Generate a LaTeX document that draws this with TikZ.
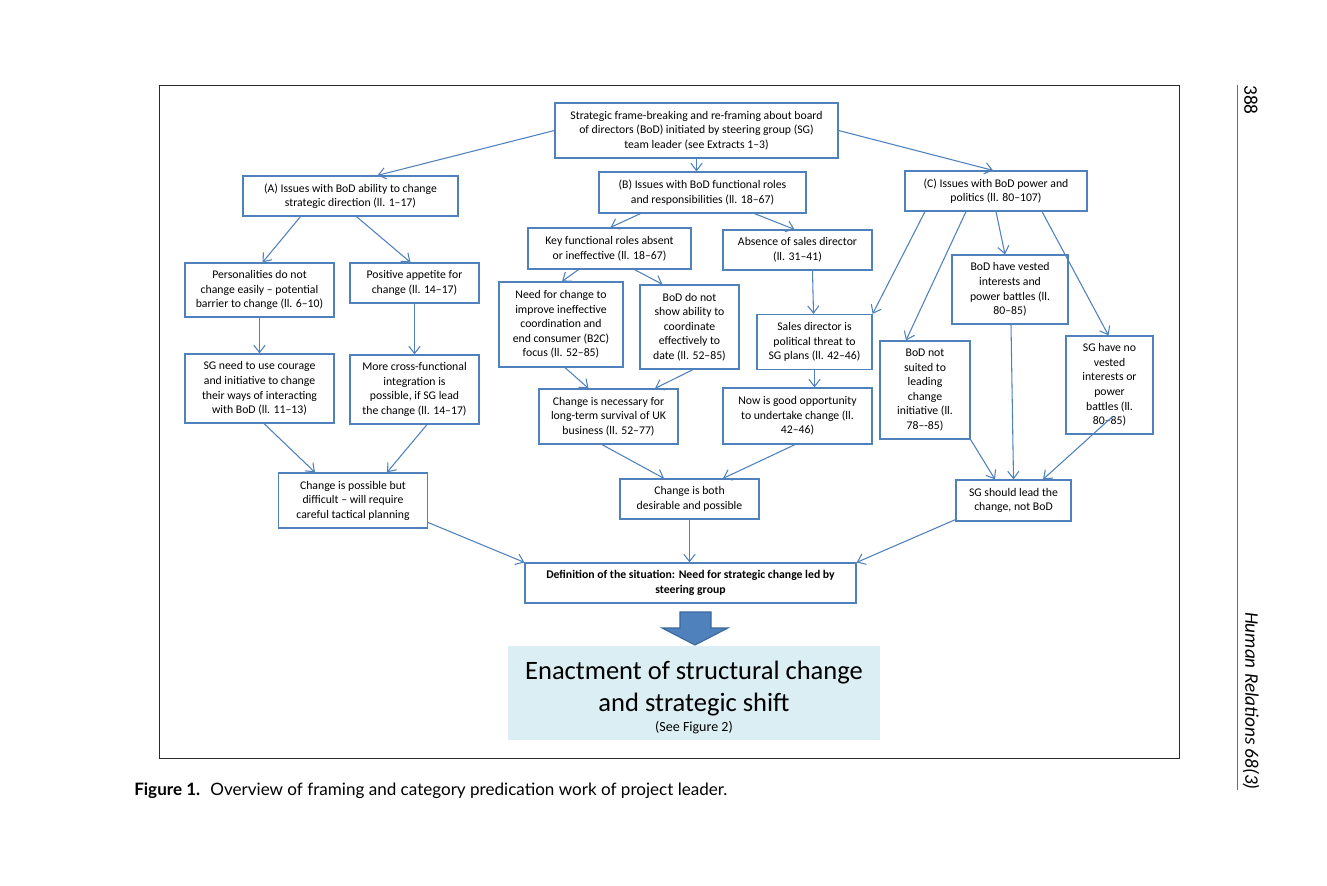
\documentclass[tikz,border=0pt]{standalone}
\usepackage{fontspec}
\setmainfont{Carlito}
\newfontfamily\capfont{Lato}
\usetikzlibrary{arrows.meta,calc}

\definecolor{boxblue}{HTML}{4F81BD}
\definecolor{arrowedge}{HTML}{3A679C}
\definecolor{enactblue}{HTML}{DAEEF3}
\definecolor{framegray}{HTML}{2B2B2B}
\definecolor{sidegray}{HTML}{6E6E6E}

\begin{document}
\begin{tikzpicture}[
  x=0.75pt,y=-0.75pt,
  box/.style 2 args={draw=boxblue,line width=0.9pt,fill=white,align=center,inner sep=1pt,
    minimum width=#1*0.75pt,minimum height=#2*0.75pt,font=\fontsize{8.8}{10.9}\selectfont},
  link/.style={draw=boxblue,line width=0.8pt,-{Straight Barb[length=5.5pt,width=8.5pt]}}
]
  \useasboundingbox (0,0) rectangle (1327,885);
  \draw[framegray,line width=0.7pt] (159,85) rectangle (1179,758);

  % frame-breaking and the three issue groups
  \node[box={283}{55}] (frame) at (696.5,130.5) {Strategic frame-breaking and re-framing about board\\ of directors (BoD) initiated by steering group (SG)\\ team leader (see Extracts 1--3)};
  \node[box={215}{40}] (issueA) at (350.5,196) {(A) Issues with BoD ability to change\\ strategic direction (ll. 1--17)};
  \node[box={207}{41}] (issueB) at (702.5,192.5) {(B) Issues with BoD functional roles\\ and responsibilities (ll. 18--67)};
  \node[box={182}{40}] (issueC) at (996,191) {(C) Issues with BoD power and\\ politics (ll. 80--107)};

  % column A
  \node[box={149}{54}] (personal) at (259.5,290) {Personalities do not\\ change easily -- potential\\ barrier to change (ll. 6--10)};
  \node[box={129}{40}] (appetite) at (414.5,283) {Positive appetite for\\ change (ll. 14--17)};
  \node[box={149}{69}] (courage) at (259.5,388.5) {SG need to use courage\\ and initiative to change\\ their ways of interacting\\ with BoD (ll. 11--13)};
  \node[box={129}{69}] (crossfunc) at (414.5,389.5) {More cross-functional\\ integration is\\ possible, if SG lead\\ the change (ll. 14--17)};
  \node[box={149}{55}] (difficult) at (353,500.5) {Change is possible but\\ difficult -- will require\\ careful tactical planning};

  % column B
  \node[box={163}{41}] (keyroles) at (609.5,248.5) {Key functional roles absent\\ or ineffective (ll. 18--67)};
  \node[box={149}{40}] (nosales) at (797.5,250) {Absence of sales director\\ (ll. 31--41)};
  \node[box={124}{85}] (needchange) at (561,324.5) {Need for change to\\ improve ineffective\\ coordination and\\ end consumer (B2C)\\ focus (ll. 52--85)};
  \node[box={99}{84}] (notshow) at (689.5,327) {BoD do not\\ show ability to\\ coordinate\\ effectively to\\ date (ll. 52--85)};
  \node[box={115}{55}] (salesthreat) at (814.5,342) {Sales director is\\ political threat to\\ SG plans (ll. 42--46)};
  \node[box={139}{55}] (necessary) at (608.5,416.5) {Change is necessary for\\ long-term survival of UK\\ business (ll. 52--77)};
  \node[box={149}{56}] (goodtime) at (797.5,416) {Now is good opportunity\\ to undertake change (ll.\\ 42--46)};
  \node[box={139}{40}] (desirable) at (689.5,499) {Change is both\\ desirable and possible};

  % column C
  \node[box={116}{69}] (vested) at (1010,289.5) {BoD have vested\\ interests and\\ power battles (ll.\\ 80--85)};
  \node[box={90}{98}] (notsuited) at (925,390) {BoD not\\ suited to\\ leading\\ change\\ initiative (ll.\\ 78--{}-85)};
  \node[box={87}{98}] (novested) at (1109.5,385) {SG have no\\ vested\\ interests or\\ power\\ battles (ll.\\ 80--85)};
  \node[box={115}{41}] (sglead) at (1013.5,500.5) {SG should lead the\\ change, not BoD};

  % outcome
  \node[box={331}{40},font=\fontsize{8.8}{10.9}\selectfont\bfseries] (definition) at (690.5,583) {Definition of the situation: Need for strategic change led by\\ steering group};
  \node[fill=enactblue,minimum width=372*0.75pt,minimum height=94*0.75pt,align=center,inner sep=0pt,
    font=\fontsize{19.9}{23.5}\selectfont] (enact) at (694,693)
    {\rule{0pt}{21pt}Enactment of structural change\\ and strategic shift\\[-8pt] \fontsize{10.5}{12}\selectfont (See Figure 2)};
  \filldraw[fill=boxblue,draw=arrowedge,line width=0.8pt] (680,612) -- (711,612) -- (711,628) -- (728,628)
    -- (695,645) -- (662,628) -- (680,628) -- cycle;

  \draw[link] (frame.west) -- ($(issueA.north)+(27,0)$);
  \draw[link] (frame.south) -- (frame.south |- issueB.north);
  \draw[link] (frame.east) -- ($(issueC.north)+(-3,0)$);

  \draw[link] ($(issueA.south)+(-50,0)$) -- ($(personal.north)+(3,0)$);
  \draw[link] ($(issueA.south)+(6,0)$) -- ($(appetite.north)+(-4,0)$);
  \draw[link] (personal) -- (courage);
  \draw[link] (appetite) -- (crossfunc);
  \draw[link] ($(courage.south)+(4.5,0)$) -- ($(difficult.north)+(-38,0)$);
  \draw[link] ($(crossfunc.south)+(12.5,0)$) -- ($(difficult.north)+(34,0)$);

  \draw[link] ($(issueB.south)+(-62,0)$) -- ($(keyroles.north)+(1,0)$);
  \draw[link] ($(issueB.south)+(52,0)$) -- ($(nosales.north)+(-3,0)$);
  \draw[link] ($(keyroles.south)+(-31,0)$) -- ($(needchange.north)+(1,0)$);
  \draw[link] ($(keyroles.south)+(25,0)$) -- ($(notshow.north)+(-27,0)$);
  \draw[link] ($(nosales.south)+(15,0)$) -- ($(salesthreat.north)+(-1,0)$);
  \draw[link] ($(needchange.south)+(4,0)$) -- ($(necessary.north)+(-20,0)$);
  \draw[link] ($(notshow.south)+(3.5,0)$) -- ($(necessary.north)+(46.5,0)$);
  \draw[link] (salesthreat.south) -- (salesthreat.south |- goodtime.north);
  \draw[link] ($(necessary.south)+(-6.5,0)$) -- ($(desirable.north)+(-25.5,0)$);
  \draw[link] ($(goodtime.south)+(-2.5,0)$) -- ($(desirable.north)+(33.5,0)$);

  \draw[link] ($(issueC.south)+(-71,0)$) -- (salesthreat.north east);
  \draw[link] ($(issueC.south)+(-30,0)$) -- ($(notsuited.north)+(-19,0)$);
  \draw[link] (issueC.south) -- ($(vested.north)+(-5,0)$);
  \draw[link] ($(issueC.south)+(46,0)$) -- ($(novested.north)+(-1,0)$);
  \draw[link] (notsuited.south east) -- ($(sglead.north)+(-18.5,0)$);
  \draw[link] ($(vested.south)+(1,0)$) -- (sglead.north);
  \draw[link] ($(novested.south)+(3,-18)$) -- ($(sglead.north)+(29.5,0)$);

  \draw[link] ($(difficult.east)+(0,22)$) -- (definition.north west);
  \draw[link] (desirable.south) -- (desirable.south |- definition.north);
  \draw[link] ($(sglead.south west)+(0,-2)$) -- (definition.north east);

  % caption and running head
  \node[anchor=base west,font=\capfont\fontsize{12.8}{15}\selectfont,inner sep=0pt] (caption) at (134,795)
    {\textbf{Figure 1.}\hspace{0.6em}Overview of framing and category predication work of project leader.};
  \coordinate (headtop) at (1237,85);
  \coordinate (headbot) at (1237,790);
  \draw[sidegray,line width=0.7pt] (headtop) -- (headbot);
  \node[rotate=-90,anchor=west,font=\fontsize{14.5}{16}\selectfont,inner sep=0pt] (page) at (1251,85) {388};
  \node[rotate=-90,anchor=east,font=\fontsize{14.4}{16}\selectfont\itshape,inner sep=0pt] (journal) at (1251,790) {Human Relations 68(3)};
\end{tikzpicture}
\end{document}
